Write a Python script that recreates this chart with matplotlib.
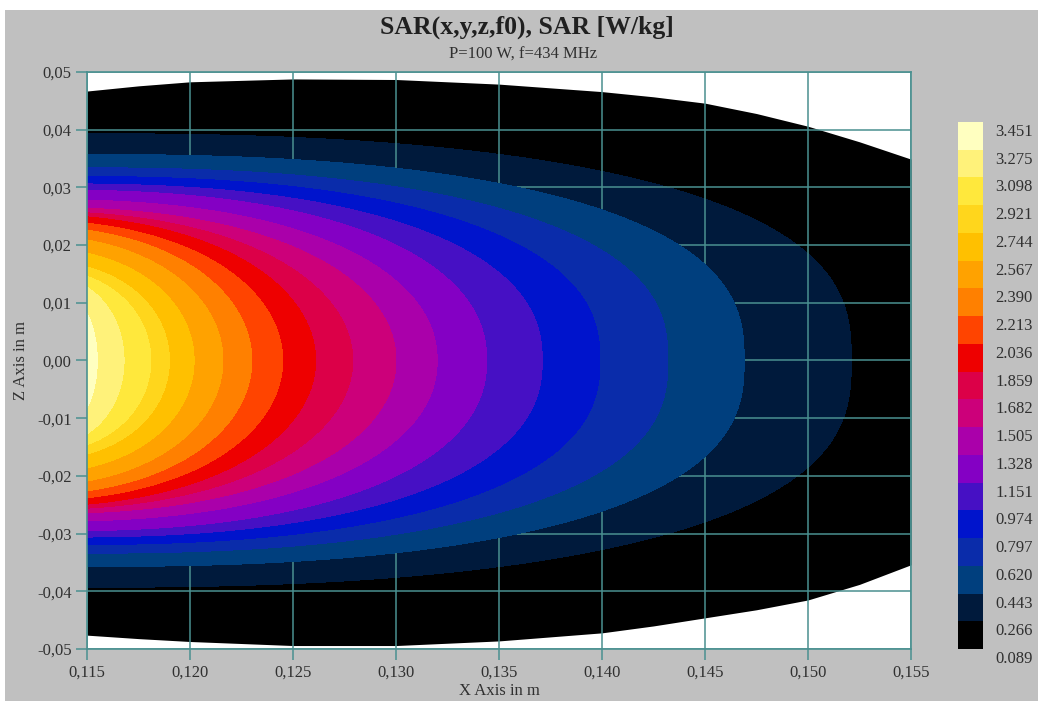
import numpy as np
import matplotlib.pyplot as plt
import matplotlib.transforms as mtransforms
from matplotlib.cm import ScalarMappable
from matplotlib.colors import BoundaryNorm, ListedColormap
from matplotlib.ticker import FuncFormatter

plt.rcParams["font.family"] = ["Liberation Serif", "DejaVu Serif"]

# SAR levels [W/kg] and the fill colour of each band (lowest band first)
levels = [0.089, 0.266, 0.443, 0.620, 0.797, 0.974, 1.151, 1.328, 1.505, 1.682,
          1.859, 2.036, 2.213, 2.390, 2.567, 2.744, 2.921, 3.098, 3.275, 3.451]
band_colors = ["#000000", "#001a3c", "#003f7e", "#0a2caa", "#0014cc", "#4610c4",
               "#8400c4", "#aa00aa", "#cc007a", "#dc0048", "#ee0000", "#ff4400",
               "#ff8000", "#ffa200", "#ffc000", "#ffd61c", "#ffe83c", "#fff27a",
               "#ffffc0"]

# iso-lines 0.266 ... 3.275: reach along z = 0, half height on the x = 0.115 edge,
# how far left of that edge each curve is centred, and how square its shoulder is
tip_x = [0.1521, 0.1469, 0.1432, 0.1399, 0.1371, 0.1344, 0.1320, 0.1300, 0.1279,
         0.1261, 0.1245, 0.1230, 0.1216, 0.1202, 0.1190, 0.1181, 0.1168, 0.1155]
edge_z = [0.0393, 0.0357, 0.0334, 0.0319, 0.0306, 0.0295, 0.0278, 0.0264, 0.0256,
          0.0249, 0.0238, 0.0226, 0.0209, 0.0186, 0.0162, 0.0146, 0.0127, 0.0082]
shift_x = [0.0, 0.0, 0.0005, 0.001, 0.0015, 0.002, 0.0025, 0.003, 0.0035,
           0.004, 0.004, 0.004, 0.004, 0.0035, 0.003, 0.003, 0.0025, 0.002]
square_z = [2.7, 2.6, 2.5, 2.4, 2.3, 2.2, 2.1, 2.05, 2.0,
            2.0, 2.0, 2.0, 2.0, 2.0, 2.0, 2.0, 2.0, 2.0]

# outline of the phantom
rim_x = [0.115, 0.1175, 0.120, 0.125, 0.130, 0.135, 0.140, 0.1425, 0.145,
         0.1475, 0.150, 0.1525, 0.155]
rim_top = [0.0467, 0.0476, 0.0483, 0.0488, 0.0487, 0.0479, 0.0466, 0.0457, 0.0446,
           0.0428, 0.0406, 0.0379, 0.0349]
rim_bot = [-0.0476, -0.0482, -0.0487, -0.0494, -0.0494, -0.0486, -0.0472, -0.0460,
           -0.0446, -0.0432, -0.0415, -0.0388, -0.0354]

x_ticks = np.arange(0.115, 0.1551, 0.005)
z_ticks = np.arange(-0.05, 0.0501, 0.01)

GRID = "#4a9090"
PANEL = "#c0c0c0"
TEXT = "#303030"
POWER_X = 2.4

fig = plt.figure(figsize=(10.38, 7.01), dpi=100, facecolor="white")
fig.patches.append(plt.Rectangle((5 / 1038, 0), 1, 1 - 10 / 701, transform=fig.transFigure,
                                 facecolor=PANEL, edgecolor="none", zorder=-10))

ax = fig.add_axes([87 / 1038, 1 - 649 / 701, 824 / 1038, 577 / 701])
ax.set_facecolor("white")

xs = np.linspace(0.115, 0.155, 900)
zs = np.linspace(-0.05, 0.05, 800)
X, Z = np.meshgrid(xs, zs)

# tissue region in the lowest band colour, then each band stacked on top
ax.fill_between(rim_x, rim_bot, rim_top, color=band_colors[0], lw=0, zorder=1)
for i, (tx, hz, dx, qz) in enumerate(zip(tip_x, edge_z, shift_x, square_z)):
    x0 = 0.115 - dx
    a = tx - x0
    b = hz / (1 - ((0.115 - x0) / a) ** POWER_X) ** (1 / qz)
    u = np.clip((X - x0) / a, 0, None)
    s = u ** POWER_X + np.abs(Z / b) ** qz
    ax.contourf(X, Z, s, levels=[-1, 1], colors=[band_colors[i + 1]], zorder=2 + i)

ax.set_xlim(0.115, 0.155)
ax.set_ylim(-0.05, 0.05)
ax.set_xticks(x_ticks)
ax.set_yticks(z_ticks)
ax.xaxis.set_major_formatter(FuncFormatter(lambda v, _: f"{v:.3f}".replace(".", ",")))
ax.yaxis.set_major_formatter(FuncFormatter(lambda v, _: f"{round(v, 2) + 0:.2f}".replace(".", ",")))
ax.grid(True, color=GRID, lw=1.1, zorder=50)
ax.set_axisbelow(False)
for sp in ax.spines.values():
    sp.set_color(GRID)
    sp.set_linewidth(1.2)
    sp.set_zorder(60)
ax.tick_params(direction="out", length=8, width=1.1, color=GRID, labelcolor=TEXT,
               labelsize=12, pad=3)
ax.set_xlabel("X Axis in m", fontsize=12, color=TEXT, labelpad=2)
ax.set_ylabel("Z Axis in m", fontsize=12, color=TEXT, labelpad=6)

fig.text(527 / 1038, 1 - 27 / 701, "SAR(x,y,z,f0), SAR [W/kg]", ha="center", va="center",
         fontsize=18.5, fontweight="bold", color="#202020")
fig.text(523 / 1038, 1 - 55 / 701, "P=100 W, f=434 MHz", ha="center", va="center",
         fontsize=12, color=TEXT)

# colour key
cax = fig.add_axes([958 / 1038, 1 - 649 / 701, 25 / 1038, 527 / 701])
cmap = ListedColormap(band_colors)
norm = BoundaryNorm(levels, cmap.N)
cb = fig.colorbar(ScalarMappable(norm=norm, cmap=cmap), cax=cax)
cb.outline.set_visible(False)
cax.minorticks_off()
cax.set_yticks([])
cax.tick_params(which="both", length=0, labelright=False)
label_tf = mtransforms.offset_copy(cax.get_yaxis_transform(), fig=fig, y=-10, units="dots")
for lev in levels:
    cax.text(1.5, lev, f"{lev:.3f}", transform=label_tf, ha="left", va="center",
             fontsize=12, color=TEXT)

fig.savefig("out.png", dpi=100, facecolor=fig.get_facecolor())
